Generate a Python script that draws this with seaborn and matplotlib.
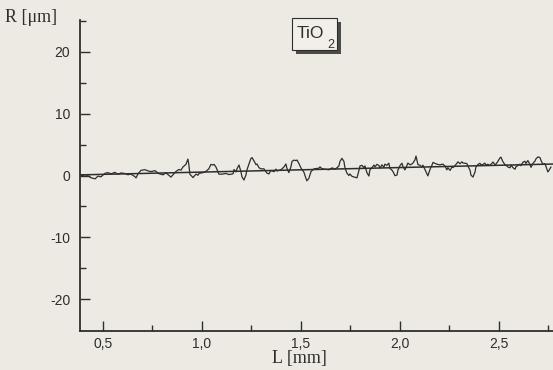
import matplotlib
matplotlib.use("Agg")
import matplotlib.pyplot as plt
import seaborn as sns
import pandas as pd
from matplotlib.patches import Rectangle

# --- Config ---
OUT_PATH = "out.png"
COLOR_BG = "#ECEAE2"   # scanned paper
COLOR_INK = "#2E2E2E"  # printed lines / text

# Roughness profile (L in mm, R in um)
L_MM = [0.389, 0.409, 0.424, 0.439, 0.460, 0.475, 0.490, 0.510, 0.525, 0.540,
        0.561, 0.576, 0.591, 0.611, 0.626, 0.641, 0.662, 0.667, 0.677, 0.692,
        0.712, 0.727, 0.742, 0.763, 0.783, 0.803, 0.818, 0.833, 0.843, 0.854,
        0.869, 0.884, 0.894, 0.904, 0.919, 0.929, 0.934, 0.939, 0.955, 0.960,
        0.970, 0.980, 0.985, 1.005, 1.020, 1.035, 1.045, 1.056, 1.061, 1.071,
        1.081, 1.086, 1.106, 1.121, 1.136, 1.157, 1.162, 1.172, 1.177, 1.187,
        1.197, 1.202, 1.212, 1.222, 1.227, 1.237, 1.247, 1.253, 1.263, 1.273,
        1.278, 1.288, 1.298, 1.313, 1.328, 1.338, 1.348, 1.364, 1.374, 1.379,
        1.399, 1.414, 1.424, 1.429, 1.439, 1.449, 1.455, 1.465, 1.475, 1.480,
        1.490, 1.500, 1.515, 1.525, 1.530, 1.540, 1.551, 1.566, 1.591, 1.596,
        1.606, 1.621, 1.641, 1.657, 1.672, 1.682, 1.692, 1.697, 1.707, 1.717,
        1.722, 1.732, 1.742, 1.747, 1.758, 1.773, 1.783, 1.793, 1.798, 1.808,
        1.818, 1.823, 1.833, 1.843, 1.848, 1.859, 1.869, 1.874, 1.884, 1.894,
        1.899, 1.909, 1.919, 1.924, 1.934, 1.944, 1.949, 1.960, 1.965, 1.975,
        1.985, 1.990, 2.000, 2.010, 2.015, 2.025, 2.035, 2.040, 2.051, 2.061,
        2.066, 2.076, 2.081, 2.086, 2.091, 2.101, 2.111, 2.116, 2.126, 2.136,
        2.141, 2.152, 2.162, 2.167, 2.177, 2.187, 2.202, 2.217, 2.227, 2.237,
        2.242, 2.253, 2.263, 2.268, 2.278, 2.288, 2.293, 2.303, 2.313, 2.318,
        2.338, 2.343, 2.354, 2.359, 2.369, 2.379, 2.384, 2.394, 2.404, 2.409,
        2.419, 2.429, 2.434, 2.444, 2.455, 2.460, 2.470, 2.480, 2.485, 2.495,
        2.505, 2.510, 2.520, 2.530, 2.535, 2.545, 2.556, 2.561, 2.571, 2.581,
        2.586, 2.596, 2.606, 2.611, 2.621, 2.631, 2.636, 2.646, 2.657, 2.662,
        2.672, 2.682, 2.687, 2.697, 2.707, 2.712, 2.722, 2.732, 2.737, 2.747,
        2.753, 2.763]
R_UM = [0.10, -0.15, -0.03, -0.36, -0.54, -0.10, -0.22, 0.35, 0.47, 0.27,
        0.50, 0.19, 0.41, 0.32, 0.12, 0.24, -0.20, -0.39, 0.27, 0.83,
        0.94, 0.75, 0.63, 0.78, 0.29, 0.11, 0.42, 0.03, -0.26, 0.14,
        0.66, 0.97, 0.87, 1.38, 1.79, 2.65, 1.70, 0.21, -0.34, -0.13,
        0.23, 0.04, 0.34, 0.46, 0.67, 1.08, 1.79, 1.69, 1.80, 1.35,
        0.61, 0.21, 0.23, 0.34, 0.15, 0.27, 0.97, 0.58, 1.08, 1.69,
        0.60, -0.20, -0.74, 0.06, 0.87, 1.83, 2.73, 2.89, 2.34, 1.75,
        1.86, 1.26, 1.07, 1.08, 0.39, 0.25, 0.81, 0.62, 1.03, 0.73,
        0.94, 1.36, 1.86, 1.17, 0.47, 1.38, 2.28, 2.49, 2.40, 2.50,
        1.91, 1.22, 0.53, -0.46, -0.86, -0.45, 0.65, 1.07, 1.18, 1.39,
        1.10, 1.01, 0.92, 1.23, 1.04, 1.25, 1.56, 2.26, 2.77, 2.28,
        1.28, 0.39, 0.00, 0.25, -0.14, -0.28, -0.38, 0.83, 1.54, 1.64,
        1.25, 1.55, 0.46, -0.08, 0.87, 1.28, 1.69, 1.39, 1.80, 1.61,
        1.21, 1.72, 1.33, 1.83, 1.64, 1.99, 1.15, 0.85, 0.61, -0.03,
        0.07, 0.88, 1.58, 1.99, 1.45, 0.90, 1.61, 2.01, 1.72, 1.88,
        2.03, 2.54, 3.14, 2.45, 1.75, 1.66, 1.37, 1.67, 0.98, 0.28,
        -0.06, 1.00, 1.70, 2.11, 1.96, 1.82, 1.73, 1.84, 1.55, 0.91,
        1.26, 0.82, 1.38, 1.28, 1.59, 2.00, 2.20, 1.91, 2.21, 2.02,
        1.93, 1.54, 0.84, 0.05, -0.25, 0.56, 1.42, 1.77, 1.98, 1.68,
        1.79, 2.00, 1.70, 1.81, 1.62, 1.82, 2.18, 1.74, 1.84, 2.30,
        2.85, 2.96, 2.22, 1.77, 1.68, 1.38, 1.24, 1.70, 1.25, 1.01,
        1.41, 1.62, 1.83, 1.58, 2.14, 2.30, 1.95, 2.41, 1.77, 1.32,
        1.98, 2.33, 2.69, 3.00, 2.90, 2.46, 1.81, 1.92, 1.52, 0.58,
        0.84, 1.39]

# mean line through the profile
TREND_L = [0.384, 2.773]
TREND_R = [0.10, 1.85]

X_TICKS = [0.5, 1.0, 1.5, 2.0, 2.5]
X_LABELS = ["0,5", "1,0", "1,5", "2,0", "2,5"]
X_MINOR = [0.75, 1.25, 1.75, 2.25, 2.75]
Y_TICKS = [-20, -10, 0, 10, 20]
Y_LABELS = ["-20", "-10", "0", "10", "20"]
Y_MINOR = [-15, -5, 5, 15, 25]


def setup_style():
    sns.set_style("ticks")
    plt.rcParams['font.family'] = ['Liberation Sans', 'DejaVu Sans']
    plt.rcParams['figure.facecolor'] = COLOR_BG
    plt.rcParams['axes.facecolor'] = COLOR_BG
    plt.rcParams['axes.edgecolor'] = COLOR_INK
    plt.rcParams['text.color'] = COLOR_INK
    plt.rcParams['xtick.color'] = COLOR_INK
    plt.rcParams['ytick.color'] = COLOR_INK


def main():
    setup_style()
    W, H = 553, 370
    fig = plt.figure(figsize=(W / 100, H / 100), dpi=100)
    ax = fig.add_axes([80 / W, 39 / H, 473 / W, 311 / H])

    profile = pd.DataFrame({"L": L_MM, "R": R_UM})
    trend = pd.DataFrame({"L": TREND_L, "R": TREND_R})
    sns.lineplot(data=trend, x="L", y="R", ax=ax, color=COLOR_INK, linewidth=1.1,
                 estimator=None)
    sns.lineplot(data=profile, x="L", y="R", ax=ax, color=COLOR_INK, linewidth=0.9,
                 estimator=None)

    ax.set_xlim(0.384, 2.773)
    ax.set_ylim(-25.1, 25.1)
    ax.set_xlabel("")
    ax.set_ylabel("")

    sns.despine(ax=ax, top=True, right=True)
    ax.spines['left'].set_linewidth(1.3)
    ax.spines['bottom'].set_linewidth(1.3)

    ax.set_xticks(X_TICKS)
    ax.set_xticklabels(X_LABELS)
    ax.set_xticks(X_MINOR, minor=True)
    ax.set_yticks(Y_TICKS)
    ax.set_yticklabels(Y_LABELS)
    ax.set_yticks(Y_MINOR, minor=True)
    ax.tick_params(which='major', direction='in', length=7, width=1.0,
                   labelsize=10, pad=7)
    ax.tick_params(which='minor', direction='in', length=4, width=1.0)
    ax.tick_params(axis='x', which='major', pad=4)

    # axis captions in serif, like the printed figure
    fig.text(5 / W, 1 - 18 / H, "R [μm]", family=['Liberation Serif', 'DejaVu Serif'],
             fontsize=13, ha='left', va='center')
    fig.text(299 / W, 1 - 358 / H, "L [mm]", family=['Liberation Serif', 'DejaVu Serif'],
             fontsize=13, ha='center', va='center')

    # TiO2 label box with drop shadow
    bx, by, bw, bh = 292, 18, 45, 32
    fig.patches.append(Rectangle(((bx + 4) / W, 1 - (by + bh + 4) / H), bw / W, bh / H,
                                 transform=fig.transFigure, facecolor="#4a4a4a",
                                 edgecolor="none", zorder=5))
    fig.patches.append(Rectangle((bx / W, 1 - (by + bh) / H), bw / W, bh / H,
                                 transform=fig.transFigure, facecolor="#F1EFE8",
                                 edgecolor=COLOR_INK, linewidth=0.8, zorder=6))
    fig.text(297 / W, 1 - 37.5 / H, "TiO", fontsize=12.5,
             ha='left', va='baseline', zorder=7)
    fig.text(327 / W, 1 - 48 / H, "2", fontsize=9,
             ha='left', va='baseline', zorder=7)

    fig.savefig(OUT_PATH, dpi=100, facecolor=COLOR_BG)
    plt.close(fig)


if __name__ == "__main__":
    main()
